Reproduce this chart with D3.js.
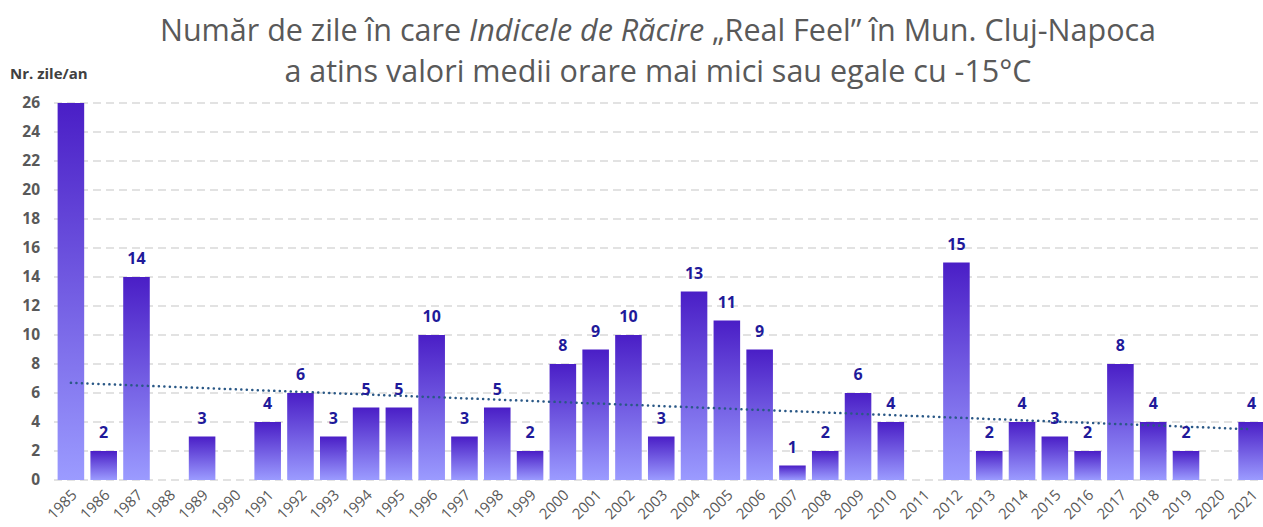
<!DOCTYPE html>
<html lang="ro">
	<head>
		<meta charset="utf-8">
		<title>Real Feel Cluj-Napoca</title>
		<script type="text/javascript" src="https://cdn.jsdelivr.net/npm/d3@7"></script>
		<style type="text/css">
			body { margin: 0; background: #fff; }
			text { font-family: "Open Sans", "Noto Sans", sans-serif; }
		</style>
	</head>
	<body>
		<script type="text/javascript">

			//Width and height
			var w = 1263;
			var h = 527;

			//Data
			var years = ["1985","1986","1987","1988","1989","1990","1991","1992","1993","1994",
			             "1995","1996","1997","1998","1999","2000","2001","2002","2003","2004",
			             "2005","2006","2007","2008","2009","2010","2011","2012","2013","2014",
			             "2015","2016","2017","2018","2019","2020","2021"];
			var days = [26, 2, 14, 0, 3, 0, 4, 6, 3, 5,
			            5, 10, 3, 5, 2, 8, 9, 10, 3, 13,
			            11, 9, 1, 2, 6, 4, 0, 15, 2, 4,
			            3, 2, 8, 4, 2, 0, 4];
			var yTicks = [0, 2, 4, 6, 8, 10, 12, 14, 16, 18, 20, 22, 24, 26];
			//Trend line ends
			var trendYears = ["1985", "2021"];
			var trendValues = [6.7, 3.5];

			var dataset = years.map(function(y, i) { return {year: y, value: days[i]}; });

			//Create SVG element
			var svg = d3.select("body")
						.append("svg")
						.attr("width", w)
						.attr("height", h);

			var defs = svg.append("defs");
			var grad = defs.append("linearGradient")
						.attr("id", "barGrad")
						.attr("x1", 0).attr("y1", 0)
						.attr("x2", 0).attr("y2", 1);
			grad.append("stop").attr("offset", "0%").attr("stop-color", "#4a1ec6");
			grad.append("stop").attr("offset", "100%").attr("stop-color", "#9b9bff");

			var x = d3.scaleBand()
						.domain(years)
						.range([54.5, 1268])
						.paddingInner(0.19)
						.paddingOuter(0.095);

			var y = d3.scaleLinear()
						.domain([0, 26])
						.range([480, 103]);

			//Gridlines
			svg.append("g")
			   .selectAll("line")
			   .data(yTicks)
			   .enter()
			   .append("line")
			   .attr("x1", 54)
			   .attr("x2", w)
			   .attr("y1", function(d) { return y(d); })
			   .attr("y2", function(d) { return y(d); })
			   .attr("stroke", "#d9d9d9")
			   .attr("stroke-width", 1.5)
			   .attr("stroke-dasharray", "8,5");

			//Y axis
			var yAxis = d3.axisLeft(y).tickValues(yTicks).tickSize(0).tickPadding(0);
			var yg = svg.append("g")
						.attr("transform", "translate(40,0)")
						.call(yAxis);
			yg.select(".domain").remove();
			yg.selectAll("text")
			  .attr("font-size", "15.5px")
			  .attr("font-weight", "bold")
			  .attr("fill", "#595959")
			  .attr("font-family", "Open Sans, sans-serif");

			svg.append("text")
			   .text("Nr. zile/an")
			   .attr("x", 10)
			   .attr("y", 79)
			   .attr("font-size", "15px")
			   .attr("font-weight", "bold")
			   .attr("fill", "#404040");

			//Bars
			svg.selectAll("rect.bar")
			   .data(dataset.filter(function(d) { return d.value > 0; }))
			   .enter()
			   .append("rect")
			   .attr("class", "bar")
			   .attr("x", function(d) { return x(d.year); })
			   .attr("width", x.bandwidth())
			   .attr("y", function(d) { return y(d.value); })
			   .attr("height", function(d) { return y(0) - y(d.value); })
			   .attr("fill", "url(#barGrad)");

			//Trend line
			var line = d3.line()
						.x(function(d) { return x(d[0]) + x.bandwidth() / 2; })
						.y(function(d) { return y(d[1]); });
			svg.append("path")
			   .datum(trendYears.map(function(t, i) { return [t, trendValues[i]]; }))
			   .attr("d", line)
			   .attr("fill", "none")
			   .attr("stroke", "#2a5886")
			   .attr("stroke-width", 2.5)
			   .attr("stroke-linecap", "round")
			   .attr("stroke-dasharray", "0.1,5.4");

			//Value labels
			svg.selectAll("text.val")
			   .data(dataset.filter(function(d) { return d.value > 0 && d.value < 26; }))
			   .enter()
			   .append("text")
			   .attr("class", "val")
			   .text(function(d) { return d.value; })
			   .attr("x", function(d) { return x(d.year) + x.bandwidth() / 2; })
			   .attr("y", function(d) { return y(d.value) - 13; })
			   .attr("text-anchor", "middle")
			   .attr("font-size", "16px")
			   .attr("font-weight", "bold")
			   .attr("fill", "#1f1a9a");

			//X axis labels
			svg.selectAll("text.year")
			   .data(years)
			   .enter()
			   .append("text")
			   .attr("class", "year")
			   .text(function(d) { return d; })
			   .attr("text-anchor", "end")
			   .attr("transform", function(d) {
			   		return "translate(" + (x(d) + x.bandwidth() / 2 + 7) + ",496) rotate(-45)";
			   })
			   .attr("font-size", "15px")
			   .attr("fill", "#595959");

			//Title
			var title = svg.append("text")
						.attr("text-anchor", "middle")
						.attr("font-size", "30.5px")
						.attr("fill", "#595959");
			var t1 = title.append("tspan").attr("x", 658).attr("y", 41);
			t1.append("tspan").text("Număr de zile în care ");
			t1.append("tspan").attr("font-style", "italic").text("Indicele de Răcire");
			t1.append("tspan").text(" „Real Feel” în Mun. Cluj-Napoca");
			title.append("tspan").attr("x", 658).attr("y", 82)
				 .text("a atins valori medii orare mai mici sau egale cu -15°C");

		</script>
	</body>
</html>
